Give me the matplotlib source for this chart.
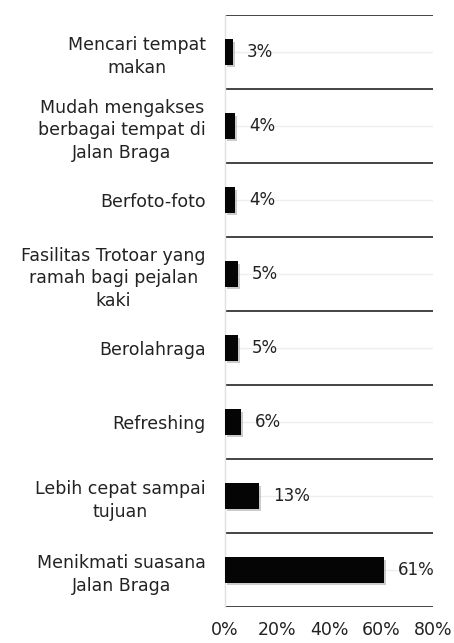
import matplotlib
matplotlib.use("Agg")
import matplotlib.pyplot as plt
import matplotlib.patheffects as pe
import numpy as np

categories = [
    "Mencari tempat\nmakan",
    "Mudah mengakses\nberbagai tempat di\nJalan Braga",
    "Berfoto-foto",
    "Fasilitas Trotoar yang\nramah bagi pejalan\nkaki",
    "Berolahraga",
    "Refreshing",
    "Lebih cepat sampai\ntujuan",
    "Menikmati suasana\nJalan Braga",
]
values = [0.03, 0.04, 0.04, 0.05, 0.05, 0.06, 0.13, 0.61]
xticks = [0.0, 0.2, 0.4, 0.6, 0.8]
xtick_labels = ["0%", "20%", "40%", "60%", "80%"]

fig = plt.figure(figsize=(4.54, 6.43), dpi=100)
ax = fig.add_axes([0.4956, 0.056, 0.4581, 0.9207])

y = np.arange(len(categories))
bars = ax.barh(y, values, height=0.34, color="#050505", zorder=3)
for b in bars:
    b.set_path_effects([pe.SimplePatchShadow(offset=(1.5, -2), shadow_rgbFace="#999999", alpha=0.5), pe.Normal()])

for yi, v in zip(y, values):
    ax.annotate(f"{int(round(v*100))}%", xy=(v, yi), xytext=(14, 0), textcoords="offset points" if False else "offset pixels",
                va="center", ha="left", fontsize=12, color="#222222")

ax.set_xlim(0, 0.8)
ax.set_ylim(len(categories) - 0.5, -0.5)
ax.set_yticks(y)
ax.set_yticklabels(categories, fontsize=12.5, color="#222222", linespacing=1.35)
for t in ax.get_yticklabels():
    t.set_multialignment("center")
ax.set_xticks(xticks)
ax.set_xticklabels(xtick_labels, fontsize=12.5, color="#222222")
ax.tick_params(axis="both", length=0)
ax.tick_params(axis="y", pad=14)
ax.tick_params(axis="x", pad=10)

# faint center gridlines
ax.grid(axis="y", color="#eeeeee", linewidth=1, zorder=0)
ax.grid(axis="x", visible=False)
# dark band boundaries
for k in range(len(categories) + 1):
    ax.axhline(k - 0.5, color="#111111", linewidth=1.1, zorder=2)

for s in ["top", "right", "bottom"]:
    ax.spines[s].set_visible(False)
ax.spines["left"].set_color("#e0e0e0")
ax.spines["left"].set_linewidth(1)

fig.savefig("out.png", dpi=100)
